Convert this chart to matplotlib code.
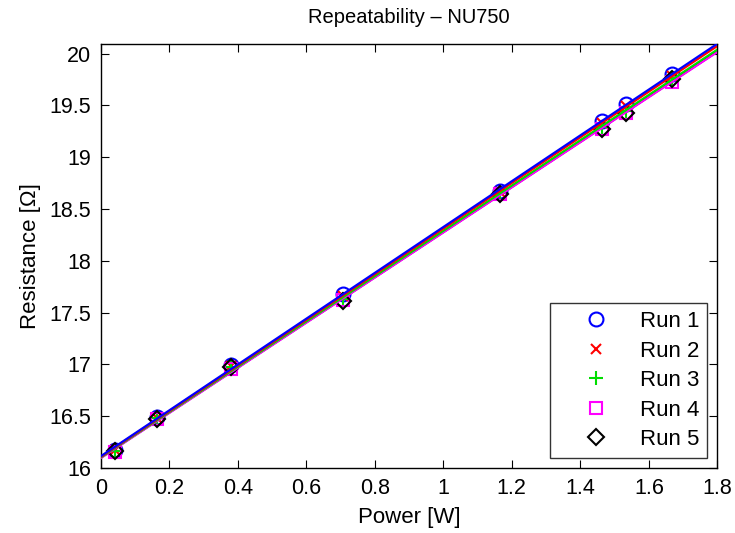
import numpy as np
import matplotlib
matplotlib.use("Agg")
import matplotlib.pyplot as plt

plt.rcParams['font.family'] = ['Liberation Sans', 'DejaVu Sans']

power = [0.041, 0.164, 0.381, 0.708, 1.167, 1.462, 1.532, 1.667]
run1 = [16.17, 16.49, 16.99, 17.68, 18.67, 19.35, 19.51, 19.80]
run2 = [16.17, 16.48, 16.98, 17.66, 18.66, 19.33, 19.49, 19.78]
run3 = [16.16, 16.48, 16.97, 17.63, 18.65, 19.29, 19.45, 19.76]
run4 = [16.15, 16.47, 16.96, 17.62, 18.64, 19.27, 19.43, 19.73]
run5 = [16.16, 16.47, 16.97, 17.61, 18.64, 19.27, 19.43, 19.75]
labels = ["Run 1", "Run 2", "Run 3", "Run 4", "Run 5"]
runs = [run1, run2, run3, run4, run5]
colors = ["#0000ff", "#ff0000", "#00dd00", "#ff00ff", "#000000"]
markers = ["o", "x", "+", "s", "D"]
msizes = [10, 7, 10, 8, 8]

fig = plt.figure(figsize=(7.35, 5.33), dpi=100)
ax = fig.add_axes([0.137, 0.122, 0.839, 0.795])

for r, c, m, ms, lab in zip(runs, colors, markers, msizes, labels):
    ax.plot(power, r, linestyle='none', marker=m, ms=ms, mfc='none',
            mec=c, mew=1.5, label=lab, zorder=2)

# linear fit per run, drawn across the full power range
xfit = np.array([0.0, 1.8])
for r, c in reversed(list(zip(runs, colors))):
    p = np.polyfit(power, r, 1)
    ax.plot(xfit, np.polyval(p, xfit), color=c, lw=1.6, zorder=3)

ax.set_xlim(0, 1.8)
ax.set_ylim(16, 20.09)
ax.set_xticks(np.arange(0, 1.81, 0.2))
ax.set_xticklabels(["0", "0.2", "0.4", "0.6", "0.8", "1", "1.2", "1.4", "1.6", "1.8"])
ax.set_yticks(np.arange(16, 20.01, 0.5))
ax.set_yticklabels(["16", "16.5", "17", "17.5", "18", "18.5", "19", "19.5", "20"])
ax.tick_params(direction='in', top=True, right=True, length=6, width=0.8,
               labelsize=15.5, pad=7)
for s in ax.spines.values():
    s.set_linewidth(1.0)

ax.set_xlabel("Power [W]", fontsize=16, labelpad=6)
ax.set_ylabel("Resistance [\u03a9]", fontsize=16, labelpad=6)
ax.set_title("Repeatability \u2013 NU750", fontsize=14.5, pad=15)

leg = ax.legend(loc='lower right', fontsize=16, frameon=True, fancybox=False,
                edgecolor='black', handlelength=3.4, handletextpad=0.3,
                borderpad=0.35, labelspacing=0.38, borderaxespad=0,
                bbox_to_anchor=(0.984, 0.024))
leg.get_frame().set_linewidth(1.0)

fig.savefig("out.png", dpi=100)
